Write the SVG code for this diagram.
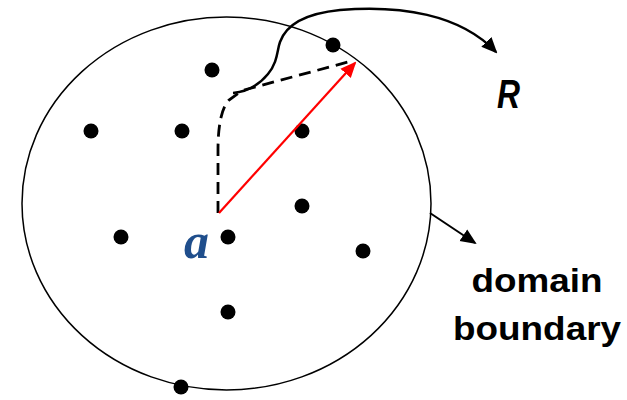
<svg xmlns="http://www.w3.org/2000/svg" width="627" height="400" viewBox="0 0 627 400">
<style>
.dot{fill:#000}
.lbl{font-family:"Liberation Sans",Arial,sans-serif;font-weight:bold;font-size:33px;fill:#000}
</style>
<defs>
<marker id="ahbig" markerWidth="16" markerHeight="16" refX="14" refY="8" orient="auto" markerUnits="userSpaceOnUse" viewBox="0 0 16 16"><path d="M0,1 L16,8 L0,15 Z" fill="#000"/></marker>
<marker id="ahr" markerWidth="16" markerHeight="16" refX="14" refY="8" orient="auto" markerUnits="userSpaceOnUse" viewBox="0 0 16 16"><path d="M0,1 L16,8 L0,15 Z" fill="#f00"/></marker>
</defs>
<g id="domain">
<ellipse cx="226.5" cy="203.5" rx="204.5" ry="186.5" fill="none" stroke="#000" stroke-width="1.5"/>
</g>
<g id="points">
<circle class="dot" cx="333" cy="45" r="7.5"/>
<circle class="dot" cx="212" cy="70" r="7.5"/>
<circle class="dot" cx="91" cy="131" r="7.5"/>
<circle class="dot" cx="182" cy="131" r="7.5"/>
<circle class="dot" cx="302" cy="131" r="7.5"/>
<circle class="dot" cx="302" cy="206" r="7.5"/>
<circle class="dot" cx="121" cy="237" r="7.5"/>
<circle class="dot" cx="228" cy="237" r="7.5"/>
<circle class="dot" cx="363" cy="251" r="7.5"/>
<circle class="dot" cx="228" cy="312" r="7.5"/>
<circle class="dot" cx="181" cy="387" r="7.5"/>
</g>
<g id="connectors">
<path d="M218,213 L218,150 Q218,112 229,100 L240,92 M244,90 L348,62" fill="none" stroke="#000" stroke-width="2.8" stroke-dasharray="12,7"/>
<line x1="219" y1="213" x2="355" y2="63" stroke="#f00" stroke-width="2.2" marker-end="url(#ahr)"/>
<path d="M233,93 C245,92 258,86 268,74 C278,62 277,50 280,42 C285,28 300,14 340,10 C400,5 460,14 496,52" fill="none" stroke="#000" stroke-width="2.5" marker-end="url(#ahbig)"/>
<line x1="430" y1="213" x2="475" y2="243" stroke="#000" stroke-width="2" marker-end="url(#ahbig)"/>
</g>
<g id="labels">
<text x="497" y="108" font-family="Liberation Sans,Arial,sans-serif" font-weight="bold" font-style="italic" font-size="41" fill="#000" textLength="23" lengthAdjust="spacingAndGlyphs">R</text>
<text x="184" y="258" font-family="Liberation Serif,Times New Roman,serif" font-weight="bold" font-style="italic" font-size="50" fill="#1f4e8c">a</text>
<text class="lbl" x="537" y="292" text-anchor="middle" textLength="131" lengthAdjust="spacingAndGlyphs">domain</text>
<text class="lbl" x="537" y="340" text-anchor="middle" textLength="168" lengthAdjust="spacingAndGlyphs">boundary</text>
</g>
</svg>
